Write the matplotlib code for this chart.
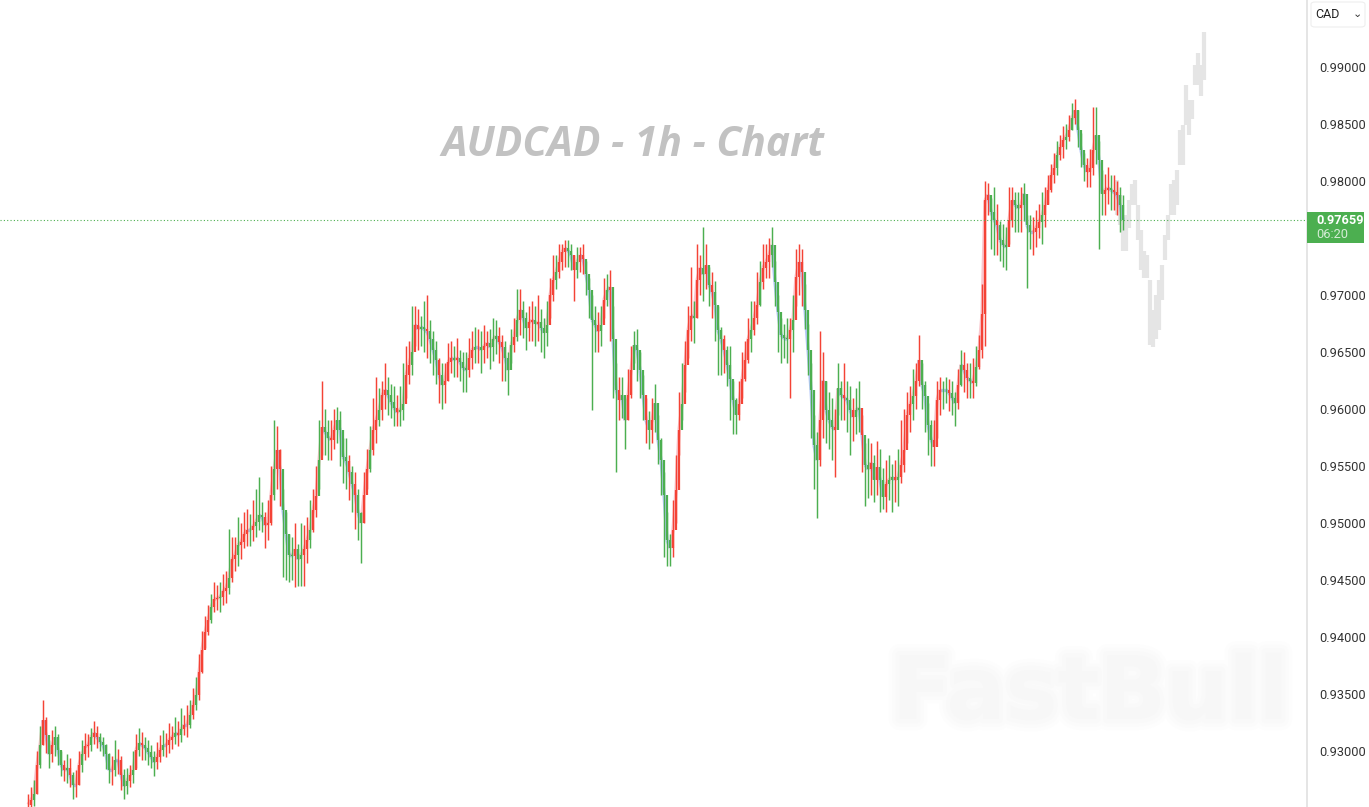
import numpy as np
import matplotlib
matplotlib.use('Agg')
import matplotlib.pyplot as plt
import matplotlib.patheffects as pe
from matplotlib.collections import LineCollection
from matplotlib.patches import FancyBboxPatch, Rectangle

# prices in 1/10000, one bar per column
close = [
    9253,9257,9262,9288,9305,9327,9314,9297,9305,9312,9301,9288,9283,9285,9279,9270,9270,9288,9297,9304,
    9305,9312,9316,9312,9308,9305,9297,9283,9283,9292,9292,9279,9269,9274,9279,9283,9301,9307,9305,9303,
    9299,9295,9290,9295,9301,9305,9305,9310,9312,9316,9314,9319,9323,9323,9332,9340,9349,9369,9389,9404,
    9415,9426,9433,9434,9435,9440,9443,9452,9468,9472,9481,9483,9490,9494,9494,9497,9501,9507,9505,9498,
    9500,9525,9547,9564,9547,9511,9490,9472,9471,9477,9468,9472,9477,9485,9494,9511,9524,9555,9584,9580,
    9575,9573,9582,9590,9582,9558,9554,9545,9534,9525,9509,9500,9525,9547,9564,9582,9590,9599,9612,9617,
    9612,9606,9601,9597,9599,9604,9630,9639,9650,9674,9670,9672,9670,9668,9661,9652,9643,9630,9621,9625,
    9641,9645,9643,9645,9641,9636,9634,9645,9652,9654,9654,9652,9655,9658,9654,9661,9664,9659,9654,9645,
    9634,9656,9663,9678,9687,9680,9671,9676,9678,9675,9676,9671,9667,9674,9700,9713,9720,9729,9738,9741,
    9739,9735,9722,9729,9735,9732,9718,9704,9678,9674,9668,9674,9696,9704,9707,9661,9617,9608,9612,9590,
    9612,9634,9656,9652,9634,9612,9590,9582,9590,9605,9573,9555,9525,9485,9478,9494,9529,9582,9604,9639,
    9669,9682,9680,9713,9724,9718,9726,9709,9703,9691,9669,9661,9652,9639,9626,9608,9595,9604,9626,9643,
    9661,9669,9680,9691,9711,9724,9729,9735,9744,9711,9685,9665,9662,9661,9669,9678,9716,9729,9720,9687,
    9652,9617,9568,9555,9590,9625,9599,9590,9584,9582,9618,9612,9610,9608,9599,9593,9599,9601,9577,9551,
    9547,9553,9538,9549,9538,9523,9534,9538,9540,9538,9540,9551,9564,9595,9604,9611,9625,9643,9621,9611,
    9586,9573,9567,9608,9617,9617,9617,9614,9610,9605,9621,9639,9634,9627,9625,9623,9637,9652,9683,9783,
    9788,9773,9766,9761,9748,9744,9742,9766,9783,9779,9776,9779,9789,9761,9755,9755,9759,9764,9770,9779,
    9792,9805,9811,9823,9830,9836,9839,9845,9855,9862,9845,9827,9814,9808,9811,9827,9840,9818,9789,9792,
    9794,9792,9790,9788,9779,9766,
]
high = [
    9262,9268,9275,9300,9322,9345,9330,9310,9318,9322,9315,9300,9292,9297,9294,9282,9283,9300,9310,9316,
    9315,9320,9326,9322,9316,9312,9306,9298,9296,9310,9302,9296,9284,9285,9288,9300,9315,9320,9317,9312,
    9310,9305,9300,9308,9314,9318,9316,9325,9322,9330,9326,9338,9332,9340,9345,9355,9365,9385,9405,9418,
    9428,9438,9448,9446,9448,9455,9458,9495,9488,9488,9505,9500,9510,9512,9508,9520,9530,9540,9518,9510,
    9520,9550,9590,9585,9565,9530,9510,9490,9488,9500,9482,9500,9498,9505,9520,9530,9550,9590,9625,9600,
    9590,9590,9600,9602,9598,9575,9575,9560,9550,9545,9530,9510,9545,9565,9585,9610,9628,9618,9625,9640,
    9628,9622,9620,9612,9620,9640,9655,9660,9690,9690,9688,9682,9695,9700,9678,9668,9660,9645,9640,9640,
    9658,9660,9655,9662,9652,9650,9650,9662,9668,9672,9670,9668,9674,9668,9670,9680,9678,9672,9665,9660,
    9650,9670,9680,9705,9705,9695,9685,9690,9695,9690,9700,9688,9680,9695,9715,9735,9735,9745,9745,9748,
    9748,9745,9735,9742,9742,9745,9730,9715,9700,9690,9685,9690,9715,9718,9722,9690,9640,9628,9628,9610,
    9635,9655,9668,9670,9650,9630,9610,9598,9610,9622,9595,9575,9545,9510,9490,9520,9560,9615,9640,9660,
    9690,9725,9695,9745,9735,9760,9745,9725,9720,9712,9690,9672,9665,9655,9655,9625,9610,9625,9650,9660,
    9680,9695,9695,9720,9730,9745,9745,9750,9760,9730,9700,9680,9675,9680,9680,9700,9740,9745,9740,9710,
    9675,9640,9595,9580,9668,9650,9625,9615,9610,9600,9640,9625,9640,9625,9620,9610,9618,9625,9595,9570,
    9575,9570,9560,9572,9565,9548,9555,9560,9552,9555,9565,9590,9600,9615,9620,9635,9640,9665,9640,9625,
    9605,9590,9590,9625,9628,9625,9628,9626,9625,9615,9635,9652,9650,9640,9640,9645,9655,9665,9710,9800,
    9798,9785,9795,9780,9765,9762,9760,9795,9795,9790,9790,9795,9798,9770,9770,9768,9775,9780,9790,9795,
    9805,9815,9825,9835,9840,9848,9850,9858,9868,9872,9862,9842,9825,9820,9828,9865,9865,9835,9810,9806,
    9812,9805,9805,9800,9795,9788,
]
low = [
    9250,9250,9252,9262,9285,9305,9298,9285,9290,9296,9288,9278,9274,9272,9268,9258,9260,9270,9282,9292,
    9295,9300,9306,9303,9300,9296,9284,9272,9270,9278,9280,9266,9258,9262,9268,9272,9285,9296,9292,9292,
    9288,9285,9278,9284,9290,9296,9295,9298,9302,9306,9304,9308,9314,9312,9320,9328,9336,9345,9368,9390,
    9402,9412,9422,9424,9422,9428,9430,9438,9448,9458,9462,9468,9478,9480,9480,9484,9488,9494,9492,9478,
    9485,9498,9520,9530,9515,9453,9450,9448,9450,9444,9445,9445,9445,9465,9478,9492,9505,9530,9560,9560,
    9555,9555,9565,9570,9550,9535,9530,9520,9510,9495,9485,9465,9500,9530,9545,9560,9570,9585,9590,9600,
    9595,9592,9585,9585,9585,9590,9610,9622,9630,9655,9652,9655,9650,9645,9640,9630,9622,9605,9600,9605,
    9625,9632,9628,9628,9625,9615,9615,9628,9635,9640,9640,9632,9640,9645,9635,9642,9648,9640,9625,9625,
    9612,9640,9650,9660,9665,9662,9652,9660,9660,9655,9660,9650,9645,9655,9680,9695,9705,9715,9722,9725,
    9725,9722,9695,9715,9720,9718,9700,9680,9599,9650,9650,9655,9680,9690,9660,9610,9545,9590,9592,9565,
    9590,9610,9640,9625,9610,9590,9570,9565,9570,9580,9552,9525,9470,9462,9462,9470,9500,9560,9590,9615,
    9645,9660,9658,9680,9700,9695,9705,9690,9680,9660,9630,9630,9632,9620,9590,9578,9578,9590,9610,9625,
    9640,9650,9665,9675,9690,9705,9715,9715,9725,9690,9650,9640,9645,9640,9610,9650,9690,9700,9690,9670,
    9630,9575,9530,9504,9550,9575,9570,9565,9555,9540,9595,9590,9590,9580,9560,9572,9578,9580,9545,9515,
    9522,9525,9518,9525,9510,9512,9510,9520,9510,9518,9515,9535,9545,9570,9580,9590,9600,9620,9600,9580,
    9560,9550,9550,9575,9595,9600,9605,9598,9595,9585,9600,9620,9615,9610,9610,9610,9620,9635,9645,9655,
    9770,9740,9735,9735,9730,9725,9722,9745,9760,9755,9755,9755,9765,9706,9740,9735,9742,9750,9745,9760,
    9780,9790,9798,9805,9818,9820,9828,9835,9845,9850,9830,9812,9800,9795,9795,9805,9815,9740,9770,9770,
    9780,9775,9775,9770,9755,9757,
]
# u = red bar, d = green bar
side = ('uududuududddududuudu' 'uduudddduduuddududud' 'ddduuduuududuududuuu' 'uduuduuduuduuududddu'
        'uuduuddddudduuduudud' 'duuddddududduuduuduu' 'dddudduuduuddudddudu' 'uududdduududuuddduud'
        'ddududduududdduuduuu' 'dduduuddddudududdudd' 'uuddddududddddduuudu' 'uuduudududddudddduuu'
        'uduuduuudddddduduuud' 'dddduuddduddudduddud' 'dududdudduduuuuduudd' 'dduuuddudduduududuuu'
        'udduddduudduddduuudu' 'uuuduudududdduuudddu' 'uduudd')
# grey projection, starts at bar 363
forecast_high = [9801,9788,9770,9770,9783,9797,9801,9779,9757,9739,9735,9713,9687,9700,9713,
                 9726,9753,9770,9797,9801,9810,9845,9849,9884,9871,9871,9902,9912,9902,9931]
forecast_low = [9770,9761,9739,9739,9759,9779,9779,9748,9722,9715,9715,9656,9654,9661,9669,
                9696,9731,9748,9770,9770,9779,9814,9814,9849,9840,9854,9884,9884,9875,9889]
forecast_start = 363

y_ticks = [0.93, 0.935, 0.94, 0.945, 0.95, 0.955, 0.96, 0.965, 0.97, 0.98, 0.985, 0.99]
last_price = 0.97659
countdown = '06:20'
currency = 'CAD'
title = 'AUDCAD - 1h - Chart'
brand = 'FastBull'

RED = '#f44336'
GREEN = '#4caf50'

close = np.array(close) / 10000
high = np.array(high) / 10000
low = np.array(low) / 10000
open_ = np.r_[close[0], close[:-1]]
bars = np.arange(len(close))
colors = [RED if s == 'u' else GREEN for s in side]

W, H = 1369, 807
fig = plt.figure(figsize=(W / 100, H / 100), dpi=100, facecolor='w')
ax = fig.add_axes([0, 0, 1307 / W, 1])

# 像素与数据的换算: 每根3像素, 11400像素/单位
ax.set_xlim(-28 / 3, (1307 - 28) / 3)
ax.set_ylim(0.99 - 740 / 11400, 0.99 + 67 / 11400)

# 水印先画
brand_fx = [pe.withStroke(linewidth=w, foreground=c) for w, c in
            [(16, '#fdfdfd'), (11, '#fbfbfb'), (6, '#f9f9f9')]]
ax.text(1090 / 1307, 1 - 695 / H, brand, transform=ax.transAxes, ha='center', va='center', color='#f7f7f7',
        fontsize=63, fontweight='bold', family='DejaVu Sans', path_effects=brand_fx, zorder=1)
ax.text(633 / 1307, 1 - 146 / H, title, transform=ax.transAxes, ha='center', va='center',
        color='#c2c2c2', fontsize=29.3, fontweight='bold', style='italic', family='Open Sans', zorder=1)

ax.vlines(forecast_start + np.arange(len(forecast_high)), np.array(forecast_low) / 10000,
          np.array(forecast_high) / 10000, color='#e5e5e5', lw=3.0, zorder=2)

# 连接线, 涨粉跌蓝
seg = np.stack([np.c_[bars[:-1], close[:-1]], np.c_[bars[1:], close[1:]]], axis=1)
seg_colors = ['#f7a3ae' if b > a else '#86a5f5' for a, b in zip(close[:-1], close[1:])]
ax.add_collection(LineCollection(seg, colors=seg_colors, linewidths=2.4, alpha=0.6, zorder=3))

ax.vlines(bars, low, high, colors=colors, lw=1.05, zorder=4)
ax.vlines(bars, open_, close, colors=colors, lw=1.6, zorder=5)

ax.axhline(last_price, color=GREEN, lw=0.8, ls=(0, (1, 2)), zorder=6)

for s in ['top', 'left', 'bottom']:
    ax.spines[s].set_visible(False)
ax.spines['right'].set_color('#e0e0e0')
ax.spines['right'].set_linewidth(1.2)
ax.set_xticks([])
ax.yaxis.tick_right()
ax.set_yticks(y_ticks)
ax.set_yticklabels(['%.5f' % t for t in y_ticks], fontsize=9.2, color='#333333', family='Roboto')
ax.tick_params(axis='y', length=0, pad=9)

# 当前价标签
fig.add_artist(Rectangle((1307 / W, 1 - 243 / H), 57 / W, 31 / H, transform=fig.transFigure,
                         facecolor=GREEN, edgecolor='none'))
fig.text(1316 / W, 1 - 220.5 / H, '%.5f' % last_price, color='w', fontsize=9.2, fontweight='bold',
         family='Roboto', va='center')
fig.text(1316 / W, 1 - 234.5 / H, countdown, color='#d5ecd6', fontsize=9.2, family='Roboto', va='center')

# 币种按钮
fig.add_artist(FancyBboxPatch((1311 / W, 1 - 27 / H), 54 / W, 25 / H, transform=fig.transFigure,
                              boxstyle='round,pad=0,rounding_size=0.003', facecolor='w',
                              edgecolor='#eeeeee', lw=0.8))
fig.text(1315 / W, 1 - 15 / H, currency, color='#222222', fontsize=9, family='Roboto', va='center')
fig.text(1357 / W, 1 - 14 / H, '\u2304', color='#333333', fontsize=8, family='DejaVu Sans',
         va='center', ha='center')

fig.savefig('out.png', dpi=100)
